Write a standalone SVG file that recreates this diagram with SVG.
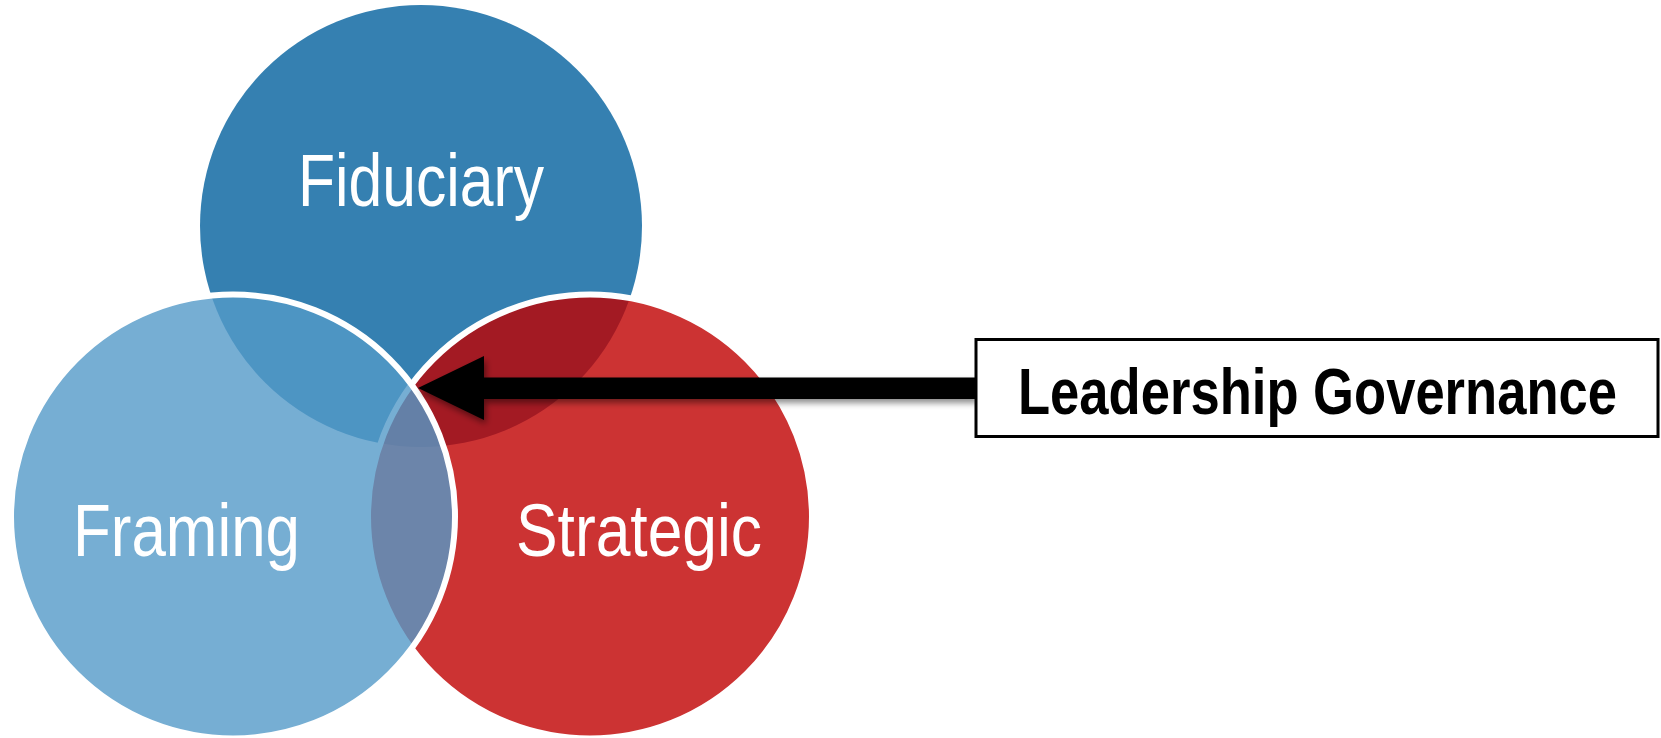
<svg xmlns="http://www.w3.org/2000/svg" width="1661" height="738" viewBox="0 0 1661 738">
  <defs>
    <style>
      .label { font-family: "Liberation Sans", Arial, sans-serif; font-size: 74px; fill: #ffffff; }
      .boxlabel { font-family: "Liberation Sans", Arial, sans-serif; font-size: 64px; font-weight: bold; fill: #000000; }
      .circ { stroke: #ffffff; stroke-width: 6; }
    </style>
    <filter id="shadow" x="-10%" y="-50%" width="120%" height="200%">
      <feDropShadow dx="2" dy="4" stdDeviation="3" flood-color="#000000" flood-opacity="0.45"/>
    </filter>
  </defs>
  <rect width="1661" height="738" fill="#ffffff"/>

  <g id="fiduciary">
    <circle cx="421" cy="226" r="221" fill="#3580B1"/>
    <text class="label" x="298" y="206" textLength="246" lengthAdjust="spacingAndGlyphs">Fiduciary</text>
  </g>

  <g id="strategic">
    <circle class="circ" cx="590" cy="516.5" r="222" fill="#BF0000" fill-opacity="0.8"/>
    <text class="label" x="516" y="556" textLength="246" lengthAdjust="spacingAndGlyphs">Strategic</text>
  </g>

  <g id="framing">
    <circle class="circ" cx="233" cy="516.5" r="222" fill="#549AC8" fill-opacity="0.8"/>
    <text class="label" x="73" y="556" textLength="227" lengthAdjust="spacingAndGlyphs">Framing</text>
  </g>

  <g id="connectors">
    <polygon points="418,388 484,356 484,377.5 976,377.5 976,399 484,399 484,420" fill="#000000" filter="url(#shadow)"/>
  </g>

  <g id="leadership-governance">
    <rect x="976" y="339.5" width="682" height="97" fill="#ffffff" stroke="#000000" stroke-width="3"/>
    <text class="boxlabel" transform="translate(1018,414) scale(0.8217,1)" x="0" y="0">Leadership Governance</text>
  </g>
</svg>
